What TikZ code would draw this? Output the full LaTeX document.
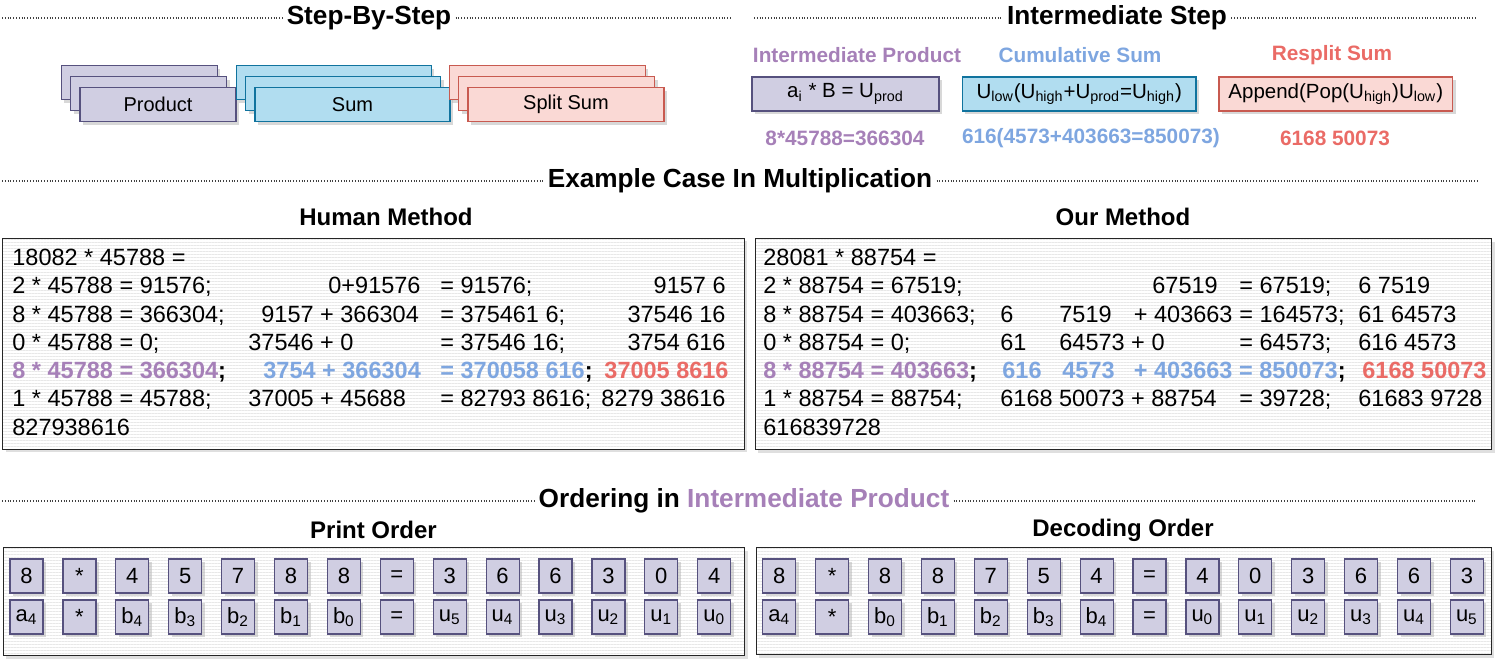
\documentclass[tikz,border=0pt]{standalone}
\usepackage{fontspec}
\setmainfont{Liberation Sans}
\usetikzlibrary{positioning,shadows,patterns.meta}
\definecolor{prodfill}{HTML}{D0CEE2}
\definecolor{prodline}{HTML}{56517E}
\definecolor{sumfill}{HTML}{B1DDF0}
\definecolor{sumline}{HTML}{10739E}
\definecolor{splitfill}{HTML}{FAD9D5}
\definecolor{splitline}{HTML}{C85A50}
\definecolor{prodtext}{HTML}{A680B8}
\definecolor{sumtext}{HTML}{7EA6E0}
\definecolor{splittext}{HTML}{EA6B66}

\begin{document}
\begin{tikzpicture}[x=0.5pt,y=-0.5pt,
  title/.style={font=\fontsize{13.1}{15}\selectfont\bfseries, inner sep=2pt},
  subtitle/.style={font=\fontsize{12}{14}\selectfont\bfseries, inner sep=0pt},
  steptext/.style={font=\fontsize{10.4}{12}\selectfont\bfseries, inner sep=0pt},
  dotline/.style={draw=black!75, line width=0.55pt, dash pattern=on 0.5pt off 0.9pt},
  card/.style={draw, line width=0.6pt, inner sep=0pt, font=\fontsize{10}{12}\selectfont,
    drop shadow={shadow xshift=1.5pt, shadow yshift=-1.5pt, fill=black!30}},
  prodcard/.style={card, fill=prodfill, draw=prodline},
  sumcard/.style={card, fill=sumfill, draw=sumline},
  splitcard/.style={card, fill=splitfill, draw=splitline},
  panel/.style={draw=black!85, line width=0.6pt, anchor=north west, inner sep=0pt,
    drop shadow={shadow xshift=1.5pt, shadow yshift=-1.5pt, fill=black!25},
    preaction={fill=white}, pattern={Lines[angle=0,distance=1.5pt,line width=0.35pt]}, pattern color=black!9},
  row/.style={font=\fontsize{11.75}{14}\selectfont, inner sep=0pt, anchor=base west},
  boldrow/.style={row, font=\fontsize{11.75}{14}\selectfont\bfseries},
  digit/.style={prodcard, minimum width=16.5pt, minimum height=17pt, font=\fontsize{11}{13}\selectfont}]
\useasboundingbox (0,0) rectangle (1495,662);

% section titles
\node[title] (tsteps) at (369,18) {Step-By-Step};
\node[title] (tinter) at (1117,18) {Intermediate Step};
\node[title] (texample) at (740,181) {Example Case In Multiplication};
\node[title] (torder) at (744,501) {Ordering in \textcolor{prodtext}{Intermediate Product}};
\coordinate (s1l) at (2,18); \coordinate (s1r) at (732,18);
\coordinate (s2l) at (754,18); \coordinate (s2r) at (1477,18);
\coordinate (s3l) at (2,181); \coordinate (s3r) at (1477,181);
\coordinate (s4l) at (2,501); \coordinate (s4r) at (1477,501);
\draw[dotline] (s1l) -- (tsteps.west); \draw[dotline] (tsteps.east) -- (s1r);
\draw[dotline] (s2l) -- (tinter.west); \draw[dotline] (tinter.east) -- (s2r);
\draw[dotline] (s3l) -- (texample.west); \draw[dotline] (texample.east) -- (s3r);
\draw[dotline] (s4l) -- (torder.west); \draw[dotline] (torder.east) -- (s4r);

% step-by-step stacks
\node[prodcard, minimum width=78pt, minimum height=17pt] (prod1) at (139.4,82.7) {};
\node[prodcard, minimum width=78pt, minimum height=17pt] (prod2) at (148.7,93.7) {};
\node[prodcard, minimum width=78pt, minimum height=17pt] (prod3) at (158,104.7) {Product};
\node[sumcard, minimum width=97.5pt, minimum height=17pt] (sum1) at (333.9,82.7) {};
\node[sumcard, minimum width=97.5pt, minimum height=17pt] (sum2) at (343.2,93.7) {};
\node[sumcard, minimum width=97.5pt, minimum height=17pt] (sum3) at (352.5,104.7) {Sum};
\node[splitcard, minimum width=98pt, minimum height=17pt] (split1) at (547.4,82.7) {};
\node[splitcard, minimum width=98pt, minimum height=17pt] (split2) at (556.7,93.7) {};
\node[splitcard, minimum width=98pt, minimum height=17pt] (split3) at (566,104.7) {Split Sum};

% intermediate step
\node[steptext, text=prodtext] (lprod) at (857,55) {Intermediate Product};
\node[steptext, text=sumtext] (lsum) at (1080,55) {Cumulative Sum};
\node[steptext, text=splittext] (lsplit) at (1332,55) {Resplit Sum};
\node[prodcard, minimum width=93.5pt, minimum height=17pt, font=\fontsize{10.25}{12}\selectfont] (iprod) at (845.5,94) {a\textsubscript{i} * B = U\textsubscript{prod}};
\node[sumcard, minimum width=116.8pt, minimum height=17pt, font=\fontsize{10.25}{12}\selectfont] (isum) at (1079.2,94) {U\textsubscript{low}(U\textsubscript{high}+U\textsubscript{prod}=U\textsubscript{high})};
\node[splitcard, minimum width=116.8pt, minimum height=17pt, font=\fontsize{10.25}{12}\selectfont] (isplit) at (1335.8,94) {Append(Pop(U\textsubscript{high})U\textsubscript{low})};
\node[steptext, text=prodtext] (eprod) at (845,138) {8*45788=366304};
\node[steptext, text=sumtext] (esum) at (1091,138) {616(4573+403663=850073)};
\node[steptext, text=splittext] (esplit) at (1335,138) {6168 50073};

% example case
\node[subtitle] (thuman) at (386,217) {Human Method};
\node[subtitle] (tour) at (1123,217) {Our Method};
\node[panel, minimum width=370.75pt, minimum height=105.5pt] (hbox) at (2.5,238) {};
\node[panel, minimum width=368.25pt, minimum height=105.5pt] (obox) at (754.5,238) {};

\node[row] (h1) at (12,265.5) {18082 * 45788 =};
\node[row] (h2a) at (12,293.8) {2 * 45788 = 91576;};
\node[row] (h2b) at (328,293.8) {0+91576};
\node[row] (h2c) at (440,293.8) {= 91576;};
\node[row, anchor=base east] (h2d) at (726,293.8) {9157 6};
\node[row] (h3a) at (12,322.1) {8 * 45788 = 366304;};
\node[row] (h3b) at (261,322.1) {9157 + 366304};
\node[row] (h3c) at (440,322.1) {= 375461 6;};
\node[row, anchor=base east] (h3d) at (726,322.1) {37546 16};
\node[row] (h4a) at (12,350.4) {0 * 45788 = 0;};
\node[row] (h4b) at (248,350.4) {37546 + 0};
\node[row] (h4c) at (440,350.4) {= 37546 16;};
\node[row, anchor=base east] (h4d) at (726,350.4) {3754 616};
\node[boldrow] (h5a) at (12,378.7) {\textcolor{prodtext}{8 * 45788 = 366304};};
\node[boldrow] (h5b) at (263,378.7) {\textcolor{sumtext}{3754 + 366304}};
\node[boldrow] (h5c) at (440,378.7) {\textcolor{sumtext}{= 370058 616};};
\node[boldrow, anchor=base east] (h5d) at (729,378.7) {\textcolor{splittext}{37005 8616}};
\node[row] (h6a) at (12,407) {1 * 45788 = 45788;};
\node[row] (h6b) at (248,407) {37005 + 45688};
\node[row] (h6c) at (440,407) {= 82793 8616;};
\node[row, anchor=base east] (h6d) at (726,407) {8279 38616};
\node[row] (h7) at (12,435.3) {827938616};

\node[row] (o1) at (763,265.5) {28081 * 88754 =};
\node[row] (o2a) at (763,293.8) {2 * 88754 = 67519;};
\node[row] (o2b) at (1152,293.8) {67519};
\node[row] (o2c) at (1239,293.8) {= 67519;};
\node[row] (o2d) at (1358,293.8) {6 7519};
\node[row] (o3a) at (763,322.1) {8 * 88754 = 403663;};
\node[row] (o3b) at (1000,322.1) {6};
\node[row] (o3c) at (1059,322.1) {7519};
\node[row] (o3d) at (1133.5,322.1) {+ 403663};
\node[row] (o3e) at (1239,322.1) {= 164573;};
\node[row] (o3f) at (1358,322.1) {61 64573};
\node[row] (o4a) at (763,350.4) {0 * 88754 = 0;};
\node[row] (o4b) at (1000,350.4) {61};
\node[row] (o4c) at (1059,350.4) {64573 + 0};
\node[row] (o4d) at (1239,350.4) {= 64573;};
\node[row] (o4e) at (1358,350.4) {616 4573};
\node[boldrow] (o5a) at (763,378.7) {\textcolor{prodtext}{8 * 88754 = 403663};};
\node[boldrow] (o5b) at (1002,378.7) {\textcolor{sumtext}{616}};
\node[boldrow] (o5c) at (1062,378.7) {\textcolor{sumtext}{4573}};
\node[boldrow] (o5d) at (1133.5,378.7) {\textcolor{sumtext}{+ 403663 = 850073};};
\node[boldrow] (o5e) at (1362,378.7) {\textcolor{splittext}{6168 50073}};
\node[row] (o6a) at (763,407) {1 * 88754 = 88754;};
\node[row] (o6b) at (1000,407) {6168 50073 + 88754};
\node[row] (o6c) at (1239,407) {= 39728;};
\node[row] (o6d) at (1358,407) {61683 9728};
\node[row] (o7) at (763,435.3) {616839728};

% ordering
\node[subtitle] (tprint) at (373.5,530) {Print Order};
\node[subtitle] (tdecode) at (1123,530) {Decoding Order};
\node[panel, minimum width=370.75pt, minimum height=54pt] (pbox) at (2.5,547) {};
\node[panel, minimum width=367.5pt, minimum height=53.5pt] (dbox) at (755.5,547) {};
\foreach \t [count=\i from 0] in {8,*,4,5,7,8,8,=,3,6,6,3,0,4}
  \node[digit] (p\i) at (26.5+52.9*\i,576) {\t};
\foreach \t [count=\i from 0] in {a\textsubscript{4},*,b\textsubscript{4},b\textsubscript{3},b\textsubscript{2},b\textsubscript{1},b\textsubscript{0},=,u\textsubscript{5},u\textsubscript{4},u\textsubscript{3},u\textsubscript{2},u\textsubscript{1},u\textsubscript{0}}
  \node[digit] (pb\i) at (26.5+52.9*\i,617) {\t};
\foreach \t [count=\i from 0] in {8,*,8,8,7,5,4,=,4,0,3,6,6,3}
  \node[digit] (d\i) at (779.2+52.9*\i,576) {\t};
\foreach \t [count=\i from 0] in {a\textsubscript{4},*,b\textsubscript{0},b\textsubscript{1},b\textsubscript{2},b\textsubscript{3},b\textsubscript{4},=,u\textsubscript{0},u\textsubscript{1},u\textsubscript{2},u\textsubscript{3},u\textsubscript{4},u\textsubscript{5}}
  \node[digit] (db\i) at (779.2+52.9*\i,617) {\t};

\end{tikzpicture}
\end{document}
